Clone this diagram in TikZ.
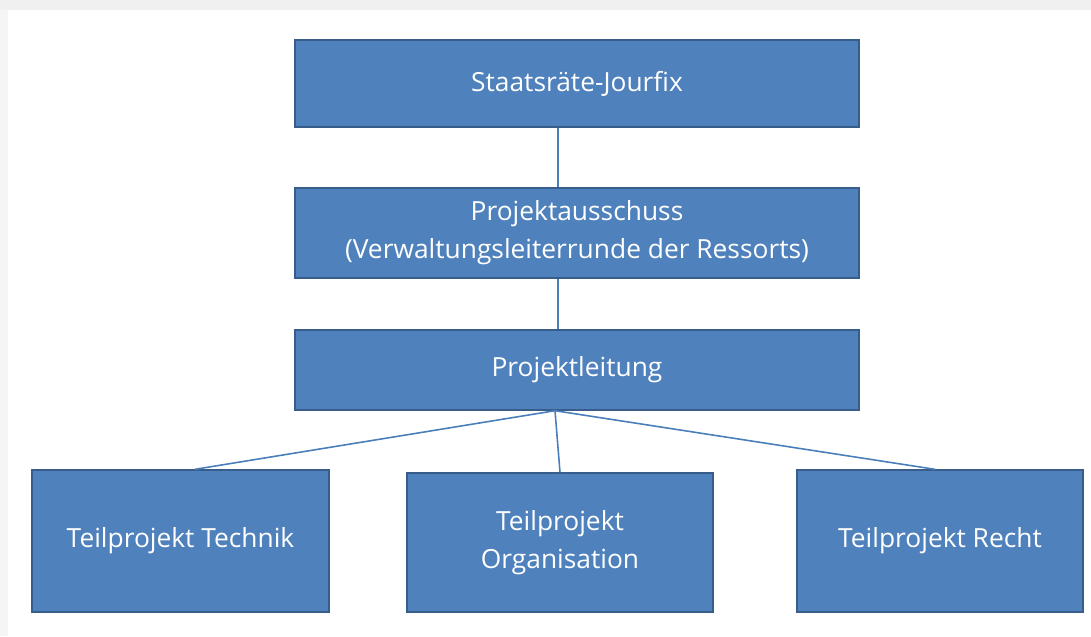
\documentclass[tikz,border=0pt]{standalone}
\usepackage{fontspec}
\setmainfont{Open Sans}
\usepackage{tikz}
\usepackage{xcolor}
\usetikzlibrary{positioning}
\definecolor{orgblue}{RGB}{79,129,189}
\definecolor{orgedge}{RGB}{56,93,138}
\definecolor{orgline}{RGB}{74,126,187}

\begin{document}
\begin{tikzpicture}[x=0.02cm,y=-0.02cm,
          box/.style={draw=orgedge,fill=orgblue,line width=0.8pt,
                      text=white,align=center,font=\fontsize{15}{21.6}\selectfont,
                      inner sep=0pt},
          link/.style={draw=orgline,line width=0.9pt}]
        \useasboundingbox (0,0) rectangle (1091,636);
        \fill[gray!12] (0,0) rectangle (1091,10);
        \fill[gray!8] (0,10) rectangle (8,636);
        \node[box,minimum width=11.28cm,minimum height=1.74cm](jourfix) at (577,83.5)
          {Staatsräte-Jourfix};
        \node[box,minimum width=11.28cm,minimum height=1.80cm](ausschuss) at (577,233)
          {Projektausschuss\\(Verwaltungsleiterrunde der Ressorts)};
        \node[box,minimum width=11.28cm,minimum height=1.60cm](leitung) at (577,370)
          {Projektleitung};
        \node[box,minimum width=5.94cm,minimum height=2.84cm](technik) at (180.5,541)
          {Teilprojekt Technik};
        \node[box,minimum width=6.12cm,minimum height=2.78cm](organisation) at (560,542.5)
          {Teilprojekt\\Organisation};
        \node[box,minimum width=5.72cm,minimum height=2.84cm](recht) at (940,541)
          {Teilprojekt Recht};
        \coordinate (j) at (jourfix.south -| 558,0);
        \coordinate (a1) at (ausschuss.north -| 558,0);
        \coordinate (a2) at (ausschuss.south -| 558,0);
        \coordinate (l1) at (leitung.north -| 558,0);
        \coordinate (l2) at (leitung.south -| 555,0);
        \coordinate (t) at (technik.north -| 195,0);
        \coordinate (r) at (recht.north -| 935,0);
        \draw[link](j)--(a1);
        \draw[link](a2)--(l1);
        \draw[link](l2)--(t);
        \draw[link](l2)--(organisation.north);
        \draw[link](l2)--(r);
      \end{tikzpicture}
\end{document}
